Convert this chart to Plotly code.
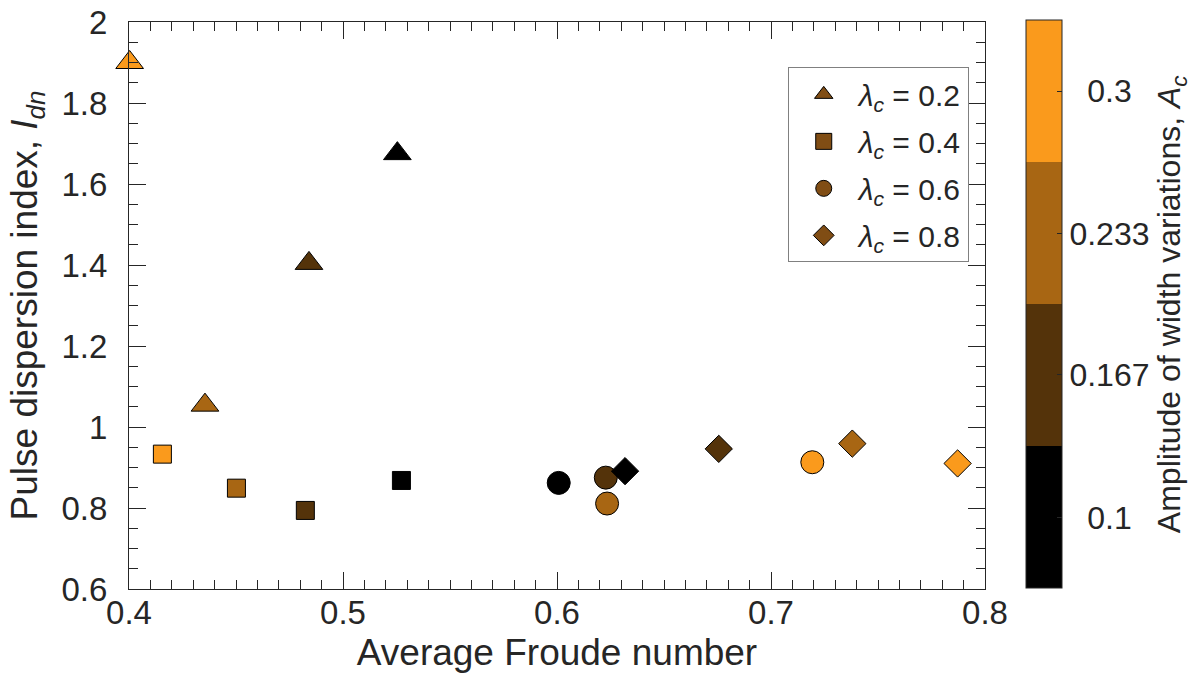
import plotly.graph_objects as go

# Amplitude levels (colour) and their labels
A_levels = [0.1, 0.167, 0.233, 0.3]
A_ticktext = ["\u20070.1", "0.167", "0.233", "\u20070.3"]

# lambda_c = 0.2 (triangles), ordered by A_levels
tri_fr = [0.5254, 0.4841, 0.4355, 0.4003]
tri_idn = [1.675, 1.404, 1.054, 1.900]
# lambda_c = 0.4 (squares)
sq_fr = [0.5273, 0.4824, 0.4502, 0.4156]
sq_idn = [0.868, 0.794, 0.849, 0.933]
# lambda_c = 0.6 (circles)
ci_fr = [0.6008, 0.6228, 0.6234, 0.7193]
ci_idn = [0.862, 0.875, 0.811, 0.913]
# lambda_c = 0.8 (diamonds)
di_fr = [0.6318, 0.6756, 0.7380, 0.7872]
di_idn = [0.891, 0.946, 0.959, 0.910]

series = [
    ("0.2", tri_fr, tri_idn, "triangle-up", 24),
    ("0.4", sq_fr, sq_idn, "square", 18),
    ("0.6", ci_fr, ci_idn, "circle", 23),
    ("0.8", di_fr, di_idn, "diamond", 21),
]

C_BLACK = "rgb(0,0,0)"
C_DARK = "rgb(84,51,10)"
C_MED = "rgb(168,102,19)"
C_ORANGE = "rgb(250,154,28)"
C_LEGEND = "rgb(128,77,20)"
TXT = "#262626"
FONT = "Liberation Sans, Arial, Helvetica, sans-serif"

fig = go.Figure()

for lam, xs, ys, sym, sz in series:
    fig.add_trace(go.Scatter(
        x=xs, y=ys, mode="markers", showlegend=False, cliponaxis=False,
        marker=dict(symbol=sym, size=sz, color=A_levels, coloraxis="coloraxis",
                    line=dict(color="black", width=1)),
    ))

for lam, xs, ys, sym, sz in series:
    fig.add_trace(go.Scatter(
        x=[None], y=[None], mode="markers", showlegend=True,
        legendgroup=f"g{lam}",
        name=f"<i>λ</i><sub><i>c</i></sub> = {lam}",
        marker=dict(symbol=sym, size=sz, color=C_LEGEND,
                    line=dict(color="black", width=1)),
    ))

colorscale = [
    [0.0, C_BLACK], [0.25, C_BLACK],
    [0.25, C_DARK], [0.5, C_DARK],
    [0.5, C_MED], [0.75, C_MED],
    [0.75, C_ORANGE], [1.0, C_ORANGE],
]

axis_common = dict(
    showline=True, linecolor=TXT, linewidth=1, mirror="allticks",
    ticks="inside", ticklen=17, tickwidth=1, tickcolor=TXT,
    showgrid=False, zeroline=False, automargin=False,
    tickfont=dict(family=FONT, size=33, color=TXT),
)

fig.update_layout(
    width=1204, height=673,
    margin=dict(l=129, r=219, t=22, b=84),
    paper_bgcolor="white", plot_bgcolor="white",
    font=dict(family=FONT, color=TXT),
    xaxis=dict(
        range=[0.4, 0.8], dtick=0.1, tick0=0.4,
        minor=dict(ticks="inside", ticklen=9, dtick=0.01, tickcolor=TXT, showgrid=False),
        title=dict(text="Average Froude number", font=dict(size=37, color=TXT, family=FONT), standoff=10),
        ticklabelstandoff=-6,
        **axis_common,
    ),
    yaxis=dict(
        range=[0.6, 2.0], dtick=0.2, tick0=0.6,
        minor=dict(ticks="inside", ticklen=9, dtick=0.05, tickcolor=TXT, showgrid=False),
        title=dict(text="Pulse dispersion index, <i>I</i><sub><i>dn</i></sub>",
                   font=dict(size=37, color=TXT, family=FONT), standoff=12),
        ticklabelstandoff=14,
        **axis_common,
    ),
    coloraxis=dict(
        colorscale=colorscale, cmin=0.0667, cmax=0.3333,
        colorbar=dict(
            thickness=36, thicknessmode="pixels",
            len=568, lenmode="pixels",
            x=1.0475, xanchor="left", xpad=0,
            y=1.003, yanchor="top", ypad=0,
            outlinewidth=1, outlinecolor=TXT,
            tickmode="array", tickvals=A_levels, ticktext=A_ticktext,
            ticks="inside", ticklen=5, tickcolor=TXT,
            tickfont=dict(family=FONT, size=32, color=TXT),
            title=dict(text="Amplitude of width variations, <i>A</i><sub><i>c</i></sub>",
                       side="right", font=dict(family=FONT, size=32, color=TXT)),
        ),
    ),
    legend=dict(
        x=0.981, xanchor="right", y=0.92, yanchor="top",
        bgcolor="white", bordercolor="#808080", borderwidth=1,
        font=dict(family=FONT, size=30, color=TXT),
        tracegroupgap=5, itemwidth=60,
    ),
)

fig.write_html("out.html")
